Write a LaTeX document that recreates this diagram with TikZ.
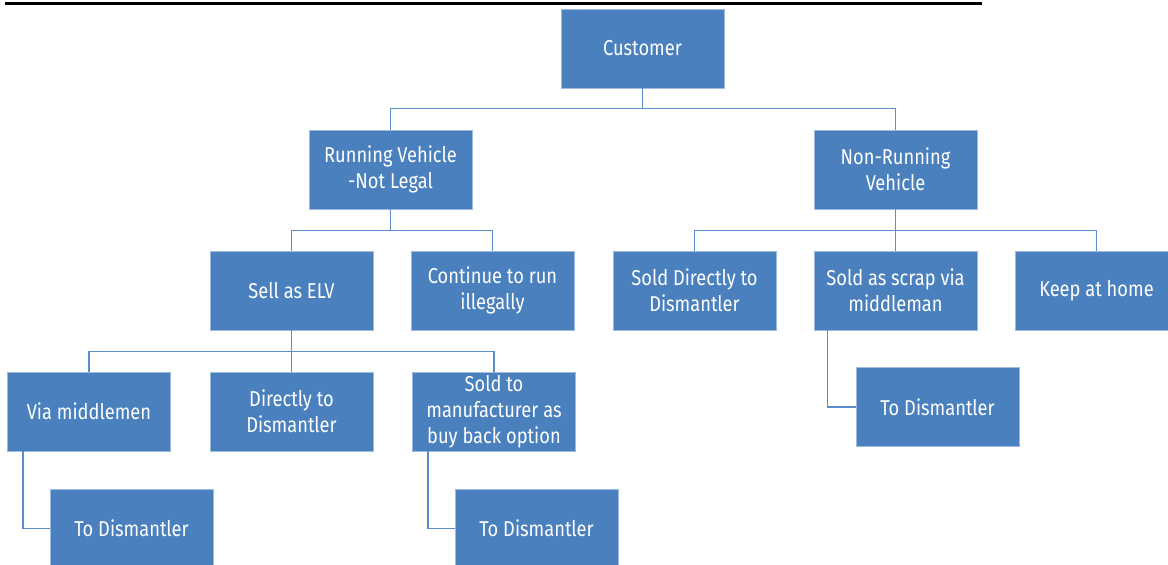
\documentclass[tikz,border=0pt]{standalone}
\usepackage{fontspec}
\setmainfont[FakeStretch=0.85]{Fira Sans}
\definecolor{boxblue}{HTML}{4A80BE}
\definecolor{boxedge}{HTML}{9DBBE0}
\definecolor{linkblue}{HTML}{5B8DCB}
\begin{document}
\begin{tikzpicture}[x=1pt,y=-1pt,
  bx/.style={draw=boxedge,line width=0.8pt,fill=boxblue,text=white,
    minimum width=163pt,minimum height=79pt,inner sep=2pt,align=center,
    font=\fontsize{21.5}{26}\selectfont},
  link/.style={draw=linkblue,line width=1.4pt}]
\useasboundingbox (0,0) rectangle (1168,565);
\fill[white] (0,0) rectangle (1168,565);
\coordinate (ul1) at (5,3);
\coordinate (ul2) at (982,3);
\draw[line width=3pt,black] (ul1) -- (ul2);
\node[bx] (cust) at (642.5,48.5) {Customer};
\node[bx] (run) at (390.5,169.5) {Running Vehicle\\-Not Legal};
\node[bx] (non) at (895.5,169.5) {Non-Running\\Vehicle};
\node[bx] (elv) at (291.5,290.5) {Sell as ELV};
\node[bx] (cont) at (492.5,290.5) {Continue to run\\illegally};
\node[bx] (sdir) at (694.5,290.5) {Sold Directly to\\Dismantler};
\node[bx] (scrap) at (895.5,290.5) {Sold as scrap via\\middleman};
\node[bx] (keep) at (1096.5,290.5) {Keep at home};
\node[bx] (via) at (89,411.5) {Via middlemen};
\node[bx] (dir) at (291.5,411.5) {Directly to\\Dismantler};
\node[bx] (manu) at (494,411.5) {Sold to\\manufacturer as\\buy back option};
\node[bx] (td1) at (131.5,528.5) {To Dismantler};
\node[bx] (td2) at (536.5,528.5) {To Dismantler};
\node[bx] (td3) at (937.5,407) {To Dismantler};
\draw[link] (cust.south) -- ++(0,20) -| (run.north);
\draw[link] (cust.south) ++(0,20) -| (non.north);
\draw[link] (run.south) -- ++(0,21) -| (elv.north);
\draw[link] (run.south) ++(0,21) -| (cont.north);
\draw[link] (non.south) -- ++(0,21) -| (sdir.north);
\draw[link] (non.south) ++(0,21) -| (keep.north);
\draw[link] (non.south) -- (scrap.north);
\draw[link] (elv.south) -- ++(0,21) -| (via.north);
\draw[link] (elv.south) ++(0,21) -| (manu.north);
\draw[link] (elv.south) -- (dir.north);
\draw[link] (via.south west) ++(16,0) |- (td1.west);
\draw[link] (manu.south west) ++(16,0) |- (td2.west);
\draw[link] (scrap.south west) ++(14,0) |- (td3.west);
\end{tikzpicture}
\end{document}
